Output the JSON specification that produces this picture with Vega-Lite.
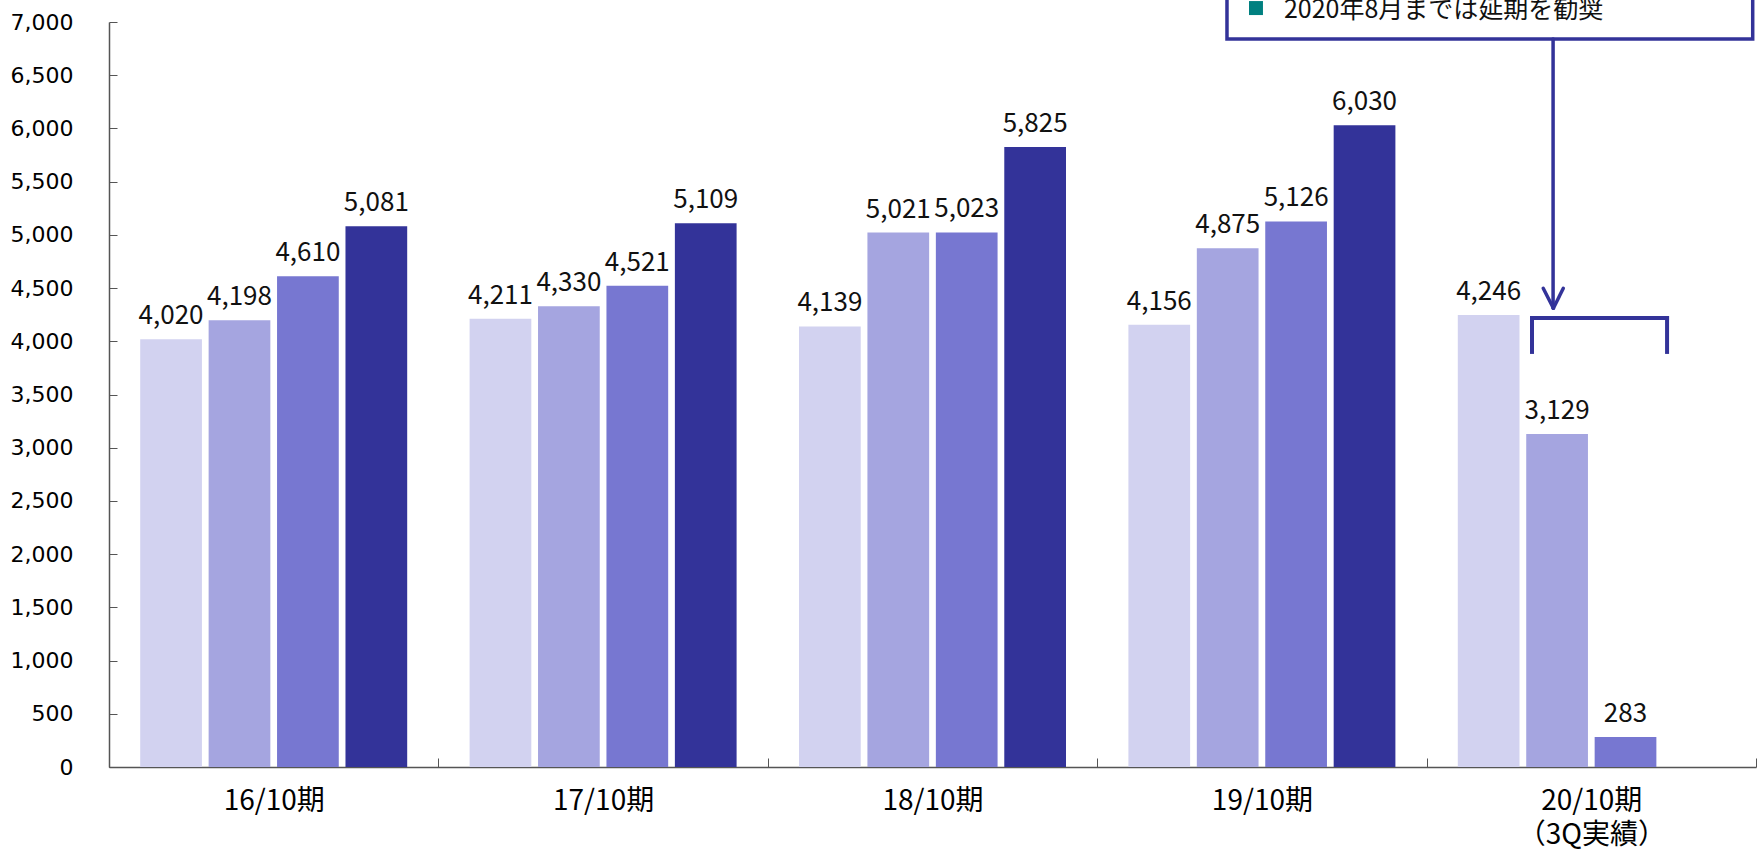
{
  "$schema": "https://vega.github.io/schema/vega-lite/v6.json",
  "width": 1647,
  "height": 745,
  "autosize": {"type": "none"},
  "padding": {"left": 109, "top": 22, "right": 3, "bottom": 84},
  "background": "white",
  "config": {"view": {"stroke": null}},
  "layer": [
    {
      "data": {
        "values": [
          {"period": "16/10期", "quarter": "1Q", "value": 4020},
          {"period": "16/10期", "quarter": "2Q", "value": 4198},
          {"period": "16/10期", "quarter": "3Q", "value": 4610},
          {"period": "16/10期", "quarter": "4Q", "value": 5081},
          {"period": "17/10期", "quarter": "1Q", "value": 4211},
          {"period": "17/10期", "quarter": "2Q", "value": 4330},
          {"period": "17/10期", "quarter": "3Q", "value": 4521},
          {"period": "17/10期", "quarter": "4Q", "value": 5109},
          {"period": "18/10期", "quarter": "1Q", "value": 4139},
          {"period": "18/10期", "quarter": "2Q", "value": 5021},
          {"period": "18/10期", "quarter": "3Q", "value": 5023},
          {"period": "18/10期", "quarter": "4Q", "value": 5825},
          {"period": "19/10期", "quarter": "1Q", "value": 4156},
          {"period": "19/10期", "quarter": "2Q", "value": 4875},
          {"period": "19/10期", "quarter": "3Q", "value": 5126},
          {"period": "19/10期", "quarter": "4Q", "value": 6030},
          {"period": "20/10期", "quarter": "1Q", "value": 4246},
          {"period": "20/10期", "quarter": "2Q", "value": 3129},
          {"period": "20/10期", "quarter": "3Q", "value": 283}
        ]
      },
      "encoding": {
        "x": {
          "field": "period",
          "type": "nominal",
          "sort": ["16/10期", "17/10期", "18/10期", "19/10期", "20/10期"],
          "scale": {"paddingInner": 0, "paddingOuter": 0},
          "axis": {
            "title": null,
            "labelAngle": 0,
            "labelFont": "Noto Sans CJK JP",
            "labelFontSize": 28,
            "labelColor": "#000000",
            "labelPadding": 29,
            "labelLineHeight": 34,
            "labelExpr": "datum.value == '20/10期' ? ['20/10期', '（3Q実績）'] : datum.value",
            "tickBand": "extent",
            "tickSize": -9,
            "tickColor": "#555555",
            "domainColor": "#555555",
            "domainWidth": 1.5,
            "grid": false
          }
        },
        "xOffset": {
          "field": "quarter",
          "type": "nominal",
          "sort": ["1Q", "2Q", "3Q", "4Q"],
          "scale": {"domain": ["1Q", "2Q", "3Q", "4Q"], "paddingInner": 0.098, "paddingOuter": 0.456}
        },
        "y": {
          "field": "value",
          "type": "quantitative",
          "scale": {"domain": [0, 7000], "nice": false, "zero": true},
          "axis": {
            "title": null,
            "values": [0, 500, 1000, 1500, 2000, 2500, 3000, 3500, 4000, 4500, 5000, 5500, 6000, 6500, 7000],
            "format": ",.0f",
            "labelFont": "DejaVu Sans",
            "labelFontSize": 22,
            "labelColor": "#000000",
            "labelPadding": 44,
            "tickSize": -8,
            "tickColor": "#555555",
            "domainColor": "#555555",
            "domainWidth": 1.5,
            "grid": false
          }
        }
      },
      "layer": [
        {
          "mark": {"type": "bar"},
          "encoding": {
            "color": {
              "field": "quarter",
              "type": "nominal",
              "scale": {"domain": ["1Q", "2Q", "3Q", "4Q"], "range": ["#D2D2F0", "#A5A5E0", "#7777D1", "#333399"]},
              "legend": null
            }
          }
        },
        {
          "mark": {"type": "text", "baseline": "alphabetic", "dy": -15, "font": "Noto Sans CJK JP", "fontSize": 26, "color": "#111111"},
          "encoding": {"text": {"field": "value", "type": "quantitative", "format": ","}}
        }
      ]
    },
    {
      "layer": [
        {
          "data": {"values": [{"x1": 3.394, "x2": 4.99, "y1": 6840, "y2": 7800}]},
          "mark": {"type": "rect", "fill": "white", "stroke": "#333399", "strokeWidth": 3.5},
          "encoding": {
            "x": {"field": "x1", "type": "quantitative", "scale": {"domain": [0, 5], "nice": false, "zero": false}, "axis": null},
            "x2": {"field": "x2"},
            "y": {"field": "y1", "type": "quantitative", "scale": {"domain": [0, 7000], "nice": false}, "axis": null},
            "y2": {"field": "y2"}
          }
        },
        {
          "data": {"values": [{"x": 3.482, "y": 7131}]},
          "mark": {"type": "point", "shape": "square", "filled": true, "color": "#008080", "size": 196, "opacity": 1},
          "encoding": {
            "x": {"field": "x", "type": "quantitative", "scale": {"domain": [0, 5], "nice": false, "zero": false}, "axis": null},
            "y": {"field": "y", "type": "quantitative", "scale": {"domain": [0, 7000], "nice": false}, "axis": null}
          }
        },
        {
          "data": {"values": [{"x": 3.567, "y": 7038, "label": "2020年8月までは延期を勧奨"}]},
          "mark": {"type": "text", "align": "left", "baseline": "alphabetic", "font": "Noto Sans CJK JP", "fontSize": 25, "color": "#111111"},
          "encoding": {
            "x": {"field": "x", "type": "quantitative", "scale": {"domain": [0, 5], "nice": false, "zero": false}, "axis": null},
            "y": {"field": "y", "type": "quantitative", "scale": {"domain": [0, 7000], "nice": false}, "axis": null},
            "text": {"field": "label"}
          }
        },
        {
          "data": {
            "values": [
              {"x1": 4.384, "x2": 4.384, "y1": 6840, "y2": 4310},
              {"x1": 4.354, "x2": 4.385, "y1": 4498, "y2": 4310},
              {"x1": 4.415, "x2": 4.385, "y1": 4498, "y2": 4310}
            ]
          },
          "mark": {"type": "rule", "color": "#333399", "strokeWidth": 3.5, "strokeCap": "round"},
          "encoding": {
            "x": {"field": "x1", "type": "quantitative", "scale": {"domain": [0, 5], "nice": false, "zero": false}, "axis": null},
            "x2": {"field": "x2"},
            "y": {"field": "y1", "type": "quantitative", "scale": {"domain": [0, 7000], "nice": false}, "axis": null},
            "y2": {"field": "y2"}
          }
        },
        {
          "data": {
            "values": [
              {"x1": 4.32, "x2": 4.73, "y1": 4219, "y2": 4219},
              {"x1": 4.32, "x2": 4.32, "y1": 4219, "y2": 3900},
              {"x1": 4.73, "x2": 4.73, "y1": 4219, "y2": 3900}
            ]
          },
          "mark": {"type": "rule", "color": "#333399", "strokeWidth": 4, "strokeCap": "square"},
          "encoding": {
            "x": {"field": "x1", "type": "quantitative", "scale": {"domain": [0, 5], "nice": false, "zero": false}, "axis": null},
            "x2": {"field": "x2"},
            "y": {"field": "y1", "type": "quantitative", "scale": {"domain": [0, 7000], "nice": false}, "axis": null},
            "y2": {"field": "y2"}
          }
        }
      ]
    }
  ],
  "resolve": {"scale": {"x": "independent"}, "axis": {"y": "independent"}}
}
